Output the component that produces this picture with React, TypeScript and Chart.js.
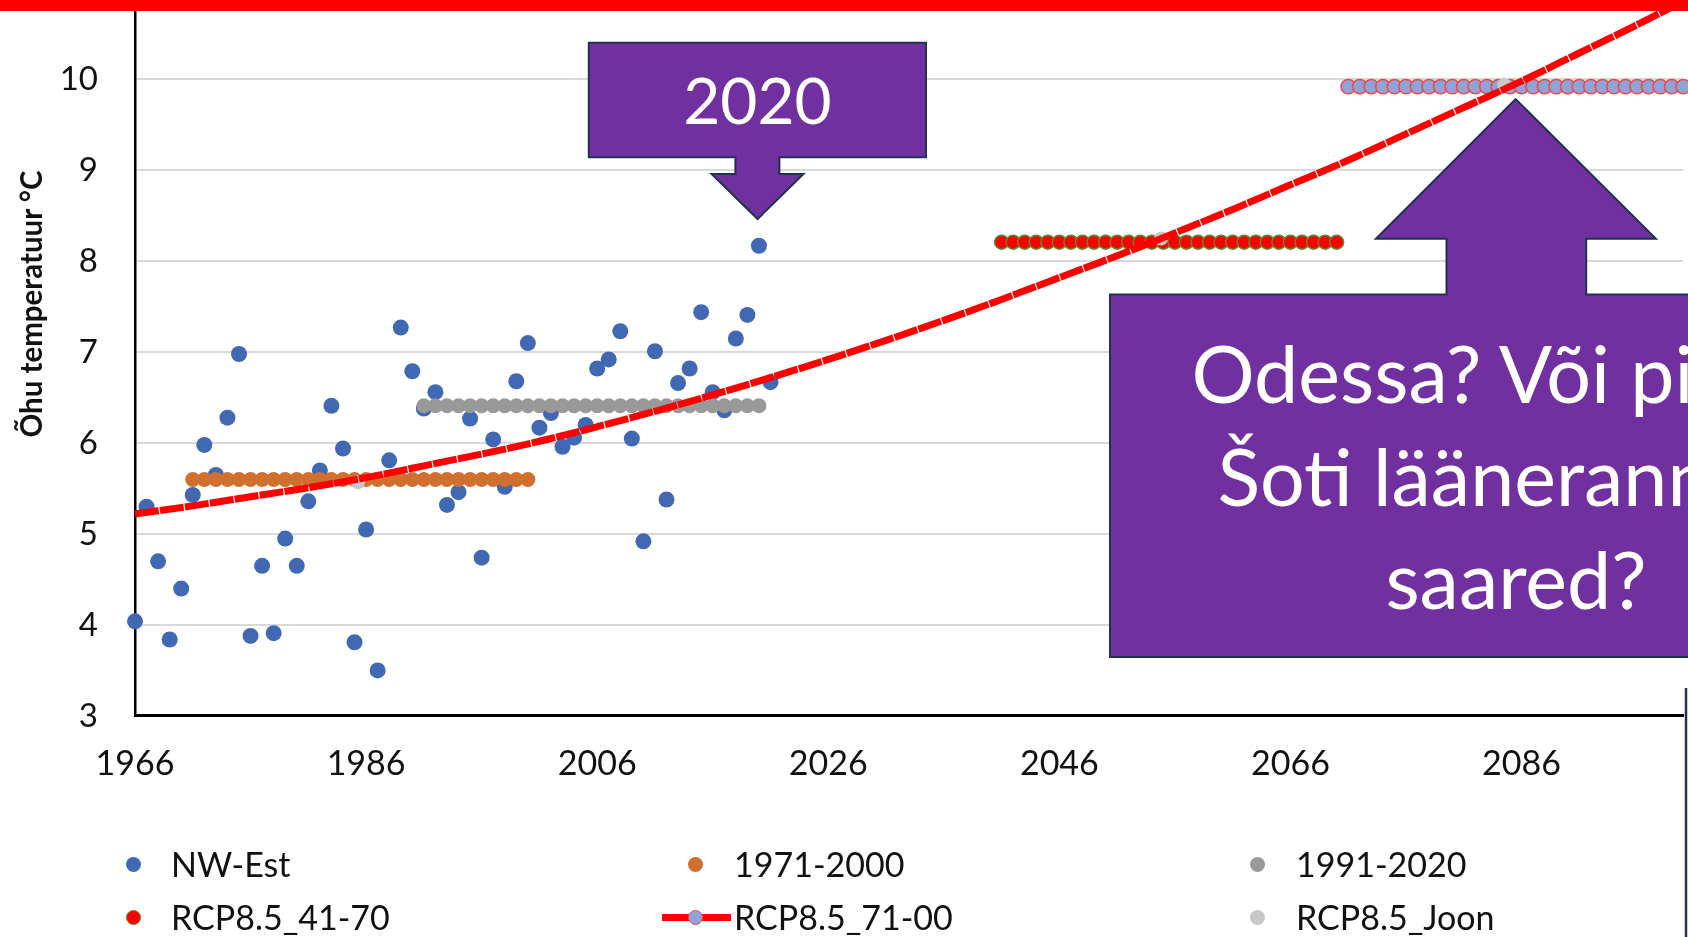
import React, { useEffect, useRef } from "react";
import { Chart, registerables } from "chart.js";

Chart.register(...registerables);

// ---- Data ----
const nwEstYears = [
  1966, 1967, 1968, 1969, 1970, 1971, 1972, 1973, 1974, 1975,
  1976, 1977, 1978, 1979, 1980, 1981, 1982, 1983, 1984, 1985,
  1986, 1987, 1988, 1989, 1990, 1991, 1992, 1993, 1994, 1995,
  1996, 1997, 1998, 1999, 2000, 2001, 2002, 2003, 2004, 2005,
  2006, 2007, 2008, 2009, 2010, 2011, 2012, 2013, 2014, 2015,
  2016, 2017, 2018, 2019, 2020, 2021,
];
const nwEstValues = [
  4.04, 5.3, 4.7, 3.84, 4.4, 5.43, 5.98, 5.65, 6.28, 6.98,
  3.88, 4.65, 3.91, 4.95, 4.65, 5.36, 5.7, 6.41, 5.94, 3.81,
  5.05, 3.5, 5.81, 7.27, 6.79, 6.38, 6.56, 5.32, 5.46, 6.27,
  4.74, 6.04, 5.52, 6.68, 7.1, 6.17, 6.33, 5.96, 6.06, 6.2,
  6.82, 6.92, 7.23, 6.05, 4.92, 7.01, 5.38, 6.66, 6.82, 7.44,
  6.56, 6.36, 7.15, 7.41, 8.17, 6.67,
];

const years1971to2000 = [
  1971, 1972, 1973, 1974, 1975, 1976, 1977, 1978, 1979, 1980,
  1981, 1982, 1983, 1984, 1985, 1986, 1987, 1988, 1989, 1990,
  1991, 1992, 1993, 1994, 1995, 1996, 1997, 1998, 1999, 2000,
];
const mean1971to2000 = 5.6;

const years1991to2020 = [
  1991, 1992, 1993, 1994, 1995, 1996, 1997, 1998, 1999, 2000,
  2001, 2002, 2003, 2004, 2005, 2006, 2007, 2008, 2009, 2010,
  2011, 2012, 2013, 2014, 2015, 2016, 2017, 2018, 2019, 2020,
];
const mean1991to2020 = 6.41;

const years2041to2070 = [
  2041, 2042, 2043, 2044, 2045, 2046, 2047, 2048, 2049, 2050,
  2051, 2052, 2053, 2054, 2055, 2056, 2057, 2058, 2059, 2060,
  2061, 2062, 2063, 2064, 2065, 2066, 2067, 2068, 2069, 2070,
];
const meanRcp4170 = 8.21;

const years2071to2100 = [
  2071, 2072, 2073, 2074, 2075, 2076, 2077, 2078, 2079, 2080,
  2081, 2082, 2083, 2084, 2085, 2086, 2087, 2088, 2089, 2090,
  2091, 2092, 2093, 2094, 2095, 2096, 2097, 2098, 2099, 2100,
];
const meanRcp7100 = 9.92;

const joonYears = [1985.3, 2054.8, 2084.5];
const joonValues = [5.57, 8.25, 9.94];

const trendYears = [
  1966, 1971, 1976, 1981, 1986, 1991, 1996, 2001, 2006, 2011,
  2016, 2021, 2026, 2031, 2036, 2041, 2046, 2051, 2056, 2061,
  2066, 2071, 2076, 2081, 2086, 2091, 2096, 2100,
];
const trendValues = [
  5.22, 5.31, 5.41, 5.51, 5.62, 5.75, 5.88, 6.02, 6.18, 6.35,
  6.53, 6.72, 6.92, 7.13, 7.35, 7.58, 7.82, 8.06, 8.31, 8.57,
  8.84, 9.11, 9.4, 9.69, 9.98, 10.29, 10.6, 10.86,
];

const xTickYears = [1966, 1986, 2006, 2026, 2046, 2066, 2086];
const yTickValues = [3, 4, 5, 6, 7, 8, 9, 10];

const FONT = "Lato, 'Open Sans', sans-serif";

const C_BLUE = "#4169B3";
const C_ORANGE = "#D0702F";
const C_GRAY = "#999999";
const C_RED = "#FF0000";
const C_OLIVE = "#5B8A30";
const C_LBLUE = "#8EA3D8";
const C_LGRAY = "#C8C8C8";
const C_PURPLE = "#7030A0";
const C_NAVY = "#1F3350";

// canvas is drawn slightly larger than the page and shifted so that the
// plot area runs off the top and right edges as in the reference
const CANVAS_TOP = -8;
const CANVAS_W = 1692;
const CANVAS_H = 945;

function pts(xs: number[], ys: number[]) {
  return xs.map((x, i) => ({ x, y: ys[i] }));
}
function band(xs: number[], mean: number) {
  return xs.map((x) => ({ x, y: mean }));
}

export default function App() {
  const ref = useRef<HTMLCanvasElement | null>(null);

  useEffect(() => {
    const canvas = ref.current;
    if (!canvas) return;
    const markerDs = (label: string, data: any[], bg: string, border: string, bw: number, r: number, order: number) => ({
      label,
      data,
      showLine: false,
      pointRadius: r,
      pointHoverRadius: r,
      pointBackgroundColor: bg,
      pointBorderColor: border,
      pointBorderWidth: bw,
      backgroundColor: bg,
      borderColor: border,
      clip: false as any,
      order,
    });
    const chart = new Chart(canvas, {
      type: "scatter",
      data: {
        datasets: [
          {
            label: "Trend",
            data: pts(trendYears, trendValues),
            showLine: true,
            borderColor: C_RED,
            borderWidth: 7,
            borderDash: [24, 1.2],
            pointRadius: 0,
            cubicInterpolationMode: "monotone",
            clip: false as any,
            order: 1,
          } as any,
          markerDs("RCP8.5_Joon", pts(joonYears, joonValues), C_LGRAY, C_LGRAY, 0, 7, 2),
          markerDs("RCP8.5_71-00", band(years2071to2100, meanRcp7100), C_LBLUE, "#F04848", 1.5, 7.2, 3),
          markerDs("RCP8.5_41-70", band(years2041to2070, meanRcp4170), C_RED, C_OLIVE, 1.5, 7, 4),
          markerDs("1991-2020", band(years1991to2020, mean1991to2020), C_GRAY, C_GRAY, 0, 7.5, 5),
          markerDs("1971-2000", band(years1971to2000, mean1971to2000), C_ORANGE, C_ORANGE, 0, 7.5, 6),
          markerDs("NW-Est", pts(nwEstYears, nwEstValues), C_BLUE, C_BLUE, 0, 8, 7),
        ],
      },
      options: {
        animation: false,
        responsive: false,
        maintainAspectRatio: false,
        events: [],
        layout: { padding: { left: 0, top: 0, right: 0, bottom: -2.6 } },
        plugins: {
          legend: { display: false },
          tooltip: { enabled: false },
          title: { display: false },
        },
        scales: {
          x: {
            type: "linear",
            min: 1966,
            max: 2100,
            grid: { display: false, drawTicks: false },
            border: { display: true, color: "#000", width: 3 },
            ticks: {
              autoSkip: false,
              maxRotation: 0,
              padding: 28,
              color: "#111",
              font: { family: FONT, size: 34 },
              callback: (v: any) => String(v),
            },
            afterBuildTicks: (scale: any) => {
              scale.ticks = xTickYears.map((v) => ({ value: v }));
            },
            afterFit: (scale: any) => {
              scale.height = 937 - 713.3;
              scale.paddingLeft = 0;
              scale.paddingRight = 0;
            },
          },
          y: {
            type: "linear",
            min: 3,
            max: 10.865,
            grid: { color: "#D9D9D9", lineWidth: 2, drawTicks: false },
            border: { display: true, color: "#000", width: 2.5 },
            ticks: {
              padding: 37,
              color: "#111",
              font: { family: FONT, size: 33 },
              callback: (v: any) => String(v),
            },
            afterBuildTicks: (scale: any) => {
              scale.ticks = yTickValues.map((v) => ({ value: v }));
            },
            afterFit: (scale: any) => {
              scale.width = 135;
              scale.paddingTop = 0;
              scale.paddingBottom = 0;
            },
          },
        },
      } as any,
    });
    return () => chart.destroy();
  }, []);

  const legendRow1 = 864;
  const legendRow2 = 917;
  const marker = (x: number, y: number, bg: string, border?: string) => (
    <div
      style={{
        position: "absolute",
        left: x - 7.5,
        top: y - 7.5,
        width: 15,
        height: 15,
        borderRadius: "50%",
        background: bg,
        boxSizing: "border-box",
        border: border ? `1.5px solid ${border}` : "none",
      }}
    />
  );
  const legendText = (x: number, y: number, t: string) => (
    <div
      style={{
        position: "absolute",
        left: x,
        top: y - 22,
        height: 44,
        lineHeight: "44px",
        fontSize: 34,
        fontFamily: FONT,
        color: "#111",
        whiteSpace: "nowrap",
      }}
    >
      {t}
    </div>
  );

  return (
    <div
      style={{
        position: "fixed",
        left: 0,
        top: 0,
        width: 1688,
        height: 937,
        overflow: "hidden",
        background: "#fff",
        fontFamily: FONT,
      }}
    >
      <canvas
        ref={ref}
        width={CANVAS_W}
        height={CANVAS_H}
        style={{ position: "absolute", left: 0, top: CANVAS_TOP, width: CANVAS_W, height: CANVAS_H }}
      />

      {/* y axis title */}
      <div
        style={{
          position: "absolute",
          left: 30,
          top: 304,
          transform: "translate(-50%, -50%) rotate(-90deg)",
          whiteSpace: "nowrap",
          fontWeight: 700,
          fontSize: 29.5,
          fontFamily: FONT,
          color: "#111",
        }}
      >
        Õhu temperatuur °C
      </div>

      {/* callouts */}
      <svg width={1688} height={937} style={{ position: "absolute", left: 0, top: 0 }}>
        <polygon
          points="588.8,42.7 926,42.7 926,157.3 779.4,157.3 779.4,174 803.5,174 757.6,219 711.6,174 735.4,174 735.4,157.3 588.8,157.3"
          fill={C_PURPLE}
          stroke={C_NAVY}
          strokeWidth={2}
        />
        <polygon
          points="1110,294.6 1446.5,294.6 1446.5,238.8 1375.9,238.8 1515.6,99.1 1655.9,238.8 1586.2,238.8 1586.2,294.6 1922,294.6 1922,657 1110,657"
          fill={C_PURPLE}
          stroke={C_NAVY}
          strokeWidth={2}
        />
        <line x1={1686} y1={688} x2={1686} y2={937} stroke={C_NAVY} strokeWidth={2.5} />
      </svg>

      <div
        style={{
          position: "absolute",
          left: 588.8,
          top: 42.7,
          width: 337.2,
          height: 114.6,
          lineHeight: "114.6px",
          textAlign: "center",
          color: "#fff",
          fontSize: 64,
          fontFamily: FONT,
        }}
      >
        2020
      </div>

      <div
        style={{
          position: "absolute",
          left: 1110,
          top: 321,
          width: 812,
          textAlign: "center",
          color: "#fff",
          fontSize: 79,
          lineHeight: "103px",
          fontFamily: FONT,
          whiteSpace: "nowrap",
        }}
      >
        <div>Odessa? Või pigem</div>
        <div>Šoti lääneranniku</div>
        <div>saared?</div>
      </div>

      {/* top red band */}
      <div style={{ position: "absolute", left: 0, top: 0, width: 1688, height: 11, background: C_RED }} />

      {/* legend */}
      {marker(133.5, legendRow1, C_BLUE)}
      {legendText(171, legendRow1, "NW-Est")}
      {marker(695.4, legendRow1, C_ORANGE)}
      {legendText(734, legendRow1, "1971-2000")}
      {marker(1257, legendRow1, C_GRAY)}
      {legendText(1296, legendRow1, "1991-2020")}

      {marker(133.5, legendRow2, C_RED, C_OLIVE)}
      {legendText(171, legendRow2, "RCP8.5_41-70")}
      <div style={{ position: "absolute", left: 662, top: legendRow2 - 3.5, width: 69, height: 7, background: C_RED }} />
      {marker(695.4, legendRow2, C_LBLUE, "#F04848")}
      {legendText(734, legendRow2, "RCP8.5_71-00")}
      {marker(1257, legendRow2, C_LGRAY)}
      {legendText(1296, legendRow2, "RCP8.5_Joon")}
    </div>
  );
}
